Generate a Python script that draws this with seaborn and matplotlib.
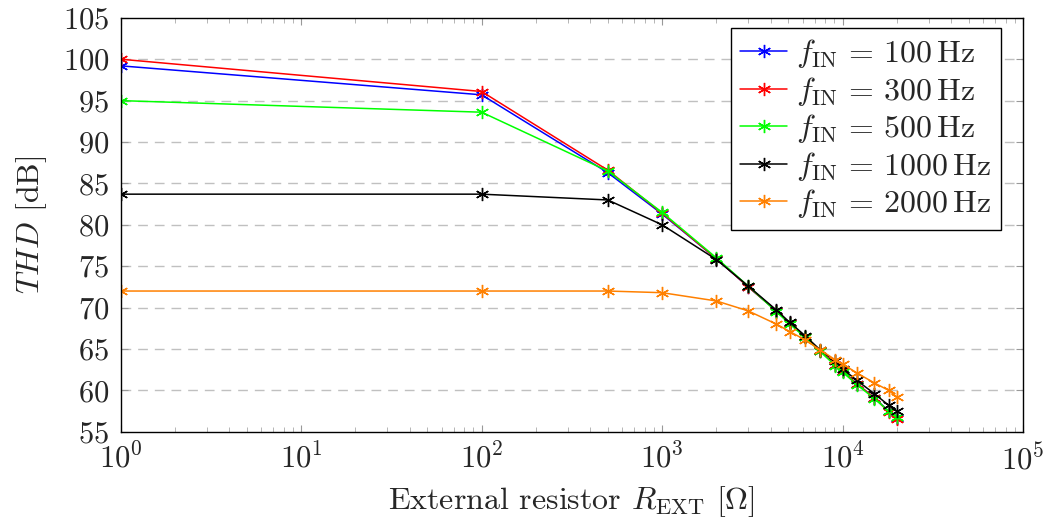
import numpy as np
import pandas as pd
import matplotlib
matplotlib.use("Agg")
import matplotlib.pyplot as plt
import seaborn as sns
from matplotlib.ticker import LogLocator, FixedLocator, NullFormatter

# ---- data ----
r_ext = [1, 100, 500, 1000, 2000, 3000, 4300, 5100, 6200, 7500, 9100, 10000, 12000, 15000, 18000, 20000]
thd_100 = [99.2, 95.7, 86.3, 81.3, 75.9, 72.5, 69.6, 68.1, 66.5, 64.8, 63.1, 62.3, 60.8, 59.1, 57.5, 56.7]
thd_300 = [100.0, 96.1, 86.6, 81.4, 75.9, 72.5, 69.6, 68.1, 66.5, 64.8, 63.1, 62.3, 60.8, 59.1, 57.4, 56.5]
thd_500 = [95.0, 93.6, 86.5, 81.5, 76.0, 72.6, 69.5, 68.0, 66.4, 64.7, 63.0, 62.2, 60.7, 59.0, 57.5, 56.8]
thd_1000 = [83.7, 83.7, 83.0, 80.0, 75.8, 72.6, 69.7, 68.2, 66.6, 64.9, 63.5, 62.6, 61.2, 59.6, 58.2, 57.5]
thd_2000 = [72.0, 72.0, 72.0, 71.8, 70.8, 69.6, 68.0, 67.1, 66.1, 64.9, 63.7, 63.2, 62.1, 60.9, 60.0, 59.2]
freqs = ["100", "300", "500", "1000", "2000"]
series = [thd_100, thd_300, thd_500, thd_1000, thd_2000]
colors = ["#0000ff", "#ff0000", "#00ff00", "#000000", "#ff8000"]
y_ticks = [55, 60, 65, 70, 75, 80, 85, 90, 95, 100, 105]

sns.set_theme(style="ticks")
plt.rcParams["font.family"] = ["cmr10", "DejaVu Serif"]
plt.rcParams["mathtext.fontset"] = "cm"
plt.rcParams["axes.formatter.use_mathtext"] = True
plt.rcParams["axes.unicode_minus"] = False

fig = plt.figure(figsize=(10.58, 5.24), dpi=100)
ax = fig.add_axes([0.114, 0.176, 0.853, 0.790])
ax.set_xscale("log")

rows = []
for f, vals in zip(freqs, series):
    for r, v in zip(r_ext, vals):
        rows.append({"R": r, "THD": v, "f": f})
df = pd.DataFrame(rows)

for f, c in zip(freqs, colors):
    sub = df[df["f"] == f]
    sns.lineplot(data=sub, x="R", y="THD", ax=ax, color=c, lw=1.1,
                 marker=(6, 2, 0), markersize=9.5, markeredgewidth=1.0,
                 markeredgecolor=c,
                 label=r"$f_{\mathrm{IN}}\,=\,%s\,\mathrm{Hz}$" % f,
                 estimator=None, sort=False)

ax.set_xlim(1, 1e5)
ax.set_ylim(55, 105)
ax.yaxis.set_major_locator(FixedLocator(y_ticks))
ax.xaxis.set_major_locator(LogLocator(base=10, numticks=10))
ax.xaxis.set_minor_locator(LogLocator(base=10, subs=np.arange(2, 10), numticks=100))
ax.xaxis.set_minor_formatter(NullFormatter())

for yv in y_ticks[1:-1]:
    ax.axhline(yv, color="#c0c0c0", lw=1.0, ls=(0, (7, 5)), zorder=0)

for s in ax.spines.values():
    s.set_color("black")
    s.set_linewidth(1.0)

ax.tick_params(axis="both", which="major", direction="in", length=5, width=0.8,
               color="#999999", labelsize=22, top=True, right=True, pad=8)
ax.tick_params(axis="x", which="minor", direction="in", length=3.5, width=0.6,
               color="#aaaaaa", top=True, bottom=True)
ax.tick_params(axis="y", which="minor", left=False, right=False)

ax.set_xlabel(r"External resistor $R_{\mathrm{EXT}}$ $[\Omega]$", fontsize=23, labelpad=6)
ax.set_ylabel(r"$THD$ [dB]", fontsize=23, labelpad=10)

leg = ax.legend(loc="upper right", bbox_to_anchor=(0.9756, 0.976), fontsize=23,
                frameon=True, fancybox=False, edgecolor="black", framealpha=1,
                borderaxespad=0.0, handlelength=1.45, handletextpad=0.3,
                labelspacing=0.14, borderpad=0.3)
leg.get_frame().set_linewidth(1.0)

fig.savefig("out.png", dpi=100)
